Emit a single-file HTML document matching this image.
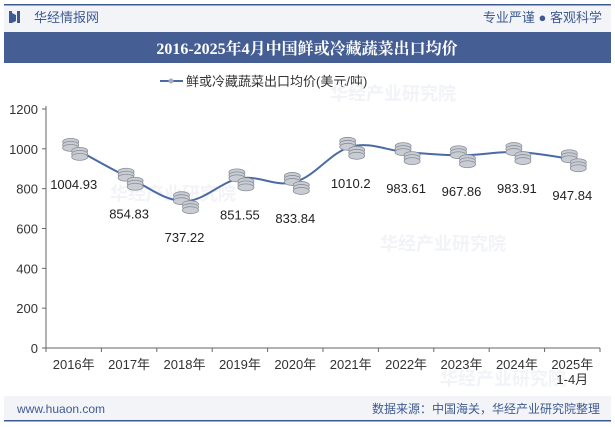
<!DOCTYPE html>
<html><head><meta charset="utf-8"><style>
body{margin:0;width:615px;height:427px;overflow:hidden;background:#fff;font-family:"Liberation Sans","Noto Sans CJK SC",sans-serif;}
svg{display:block}
</style></head><body>
<svg width="615" height="427">
<rect x="4" y="4" width="607" height="28" fill="#f2f4f8"/>
<rect x="4" y="4" width="607" height="1.5" fill="#3f5a92"/>
<rect x="9" y="11" width="3" height="12" fill="#3f5a92"/><path d="M12 13 L16 15 L16 21 L12 23Z" fill="#3f5a92"/><rect x="17" y="11" width="3" height="12" fill="#3f5a92"/>
<text x="34" y="22" font-size="13" fill="#3f5a92">华经情报网</text>
<text x="602" y="22" font-size="13" fill="#3f5a92" text-anchor="end">专业严谨 ● 客观科学</text>
<rect x="4" y="32" width="607" height="31" fill="#455f95"/>
<text x="307" y="54" font-size="16" font-weight="bold" fill="#fff" text-anchor="middle" font-family="Liberation Serif,Noto Serif CJK SC,serif">2016-2025年4月中国鲜或冷藏蔬菜出口均价</text>
<g>
<line x1="160" y1="81" x2="183" y2="81" stroke="#4a6aa5" stroke-width="2"/><circle cx="171" cy="81" r="2.5" fill="#aab"/>
<text x="186" y="86" font-size="13" fill="#333">鲜或冷藏蔬菜出口均价(美元/吨)</text></g>
<g id="wm" fill="#f1f3f7" font-size="18" font-weight="bold">
<text x="330" y="100">华经产业研究院</text><text x="380" y="250">华经产业研究院</text><text x="110" y="200">华经产业研究院</text><text x="440" y="385">华经产业研究院</text>
</g>
<g id="axes"></g><g id="plot"></g>
<rect x="4" y="396" width="607" height="25" fill="#f2f4f8"/>
<rect x="4" y="420" width="607" height="1.5" fill="#3f5a92"/>
<text x="17" y="413" font-size="12" fill="#3f5a92">www.huaon.com</text>
<text x="600" y="413" font-size="12" fill="#3f5a92" text-anchor="end">数据来源：中国海关，华经产业研究院整理</text>
</svg>
<script>
const categories=["2016年","2017年","2018年","2019年","2020年","2021年","2022年","2023年","2024年","2025年"];
const values=[1004.93,854.83,737.22,851.55,833.84,1010.2,983.61,967.86,983.91,947.84];
const labels=["1004.93","854.83","737.22","851.55","833.84","1010.2","983.61","967.86","983.91","947.84"];
const yTicks=[0,200,400,600,800,1000,1200];
const NS="http://www.w3.org/2000/svg";
const x0=46,x1=600,y0=348,y1=109;
const xs=i=>x0+(i+0.5)*(x1-x0)/categories.length;
const ys=v=>y0-(v/1200)*(y0-y1);
function mk(t,a,p){const e=document.createElementNS(NS,t);for(const k in a)e.setAttribute(k,a[k]);p.appendChild(e);return e;}
const ax=document.getElementById('axes'),pl=document.getElementById('plot');
mk('line',{x1:x0,y1:y1-3,x2:x0,y2:y0,stroke:'#666'},ax);
mk('line',{x1:x0,y1:y0,x2:x1,y2:y0,stroke:'#666'},ax);
yTicks.forEach(v=>{
const t=mk('text',{x:38,y:ys(v)+5,'font-size':13,'text-anchor':'end',fill:'#333'},ax);t.textContent=v;


mk('line',{x1:x0-4,y1:ys(v),x2:x0,y2:ys(v),stroke:'#666'},ax);});
categories.forEach((c,i)=>{
mk('line',{x1:x0+i*(x1-x0)/10,y1:y0,x2:x0+i*(x1-x0)/10,y2:y0+4,stroke:'#666'},ax);
const t=mk('text',{x:xs(i),y:369,'font-size':13,'text-anchor':'middle',fill:'#333'},ax);t.textContent=c;


if(i==9){const s=mk('text',{x:xs(i),y:384,'font-size':13,'text-anchor':'middle',fill:'#333'},ax);s.textContent="1-4月";}
});
mk('line',{x1:x1,y1:y0,x2:x1,y2:y0+4,stroke:'#666'},ax);
let d="";const P=values.map((v,i)=>[xs(i),ys(v)]);
P.forEach((p,i)=>{if(i==0){d+=`M${p[0]},${p[1]}`;return;}const a=P[i-1],b0=P[i-2]||a,c=P[i+1]||p;
const t=0.18;d+=` C${a[0]+(p[0]-b0[0])*t},${a[1]+(p[1]-b0[1])*t} ${p[0]-(c[0]-a[0])*t},${p[1]-(c[1]-a[1])*t} ${p[0]},${p[1]}`;});
const line=mk('path',{d:d,fill:'none',stroke:'#4a6aa5','stroke-width':2},pl);


values.forEach((v,i)=>{
const g=mk('g',{},pl);


const cx=xs(i),cy=ys(v);
[[-3,-6],[-3,-3],[-3,0],[6,3],[6,6],[6,9]].forEach(o=>{mk('ellipse',{cx:cx+o[0],cy:cy+o[1],rx:8,ry:3.5,fill:'#c9ccd3',stroke:'#8a8f99','stroke-width':0.8},g);});
const t=mk('text',{x:cx,y:cy+41,'font-size':13,'text-anchor':'middle',fill:'#222'},pl);t.textContent=labels[i];


});
</script>
</body></html>
